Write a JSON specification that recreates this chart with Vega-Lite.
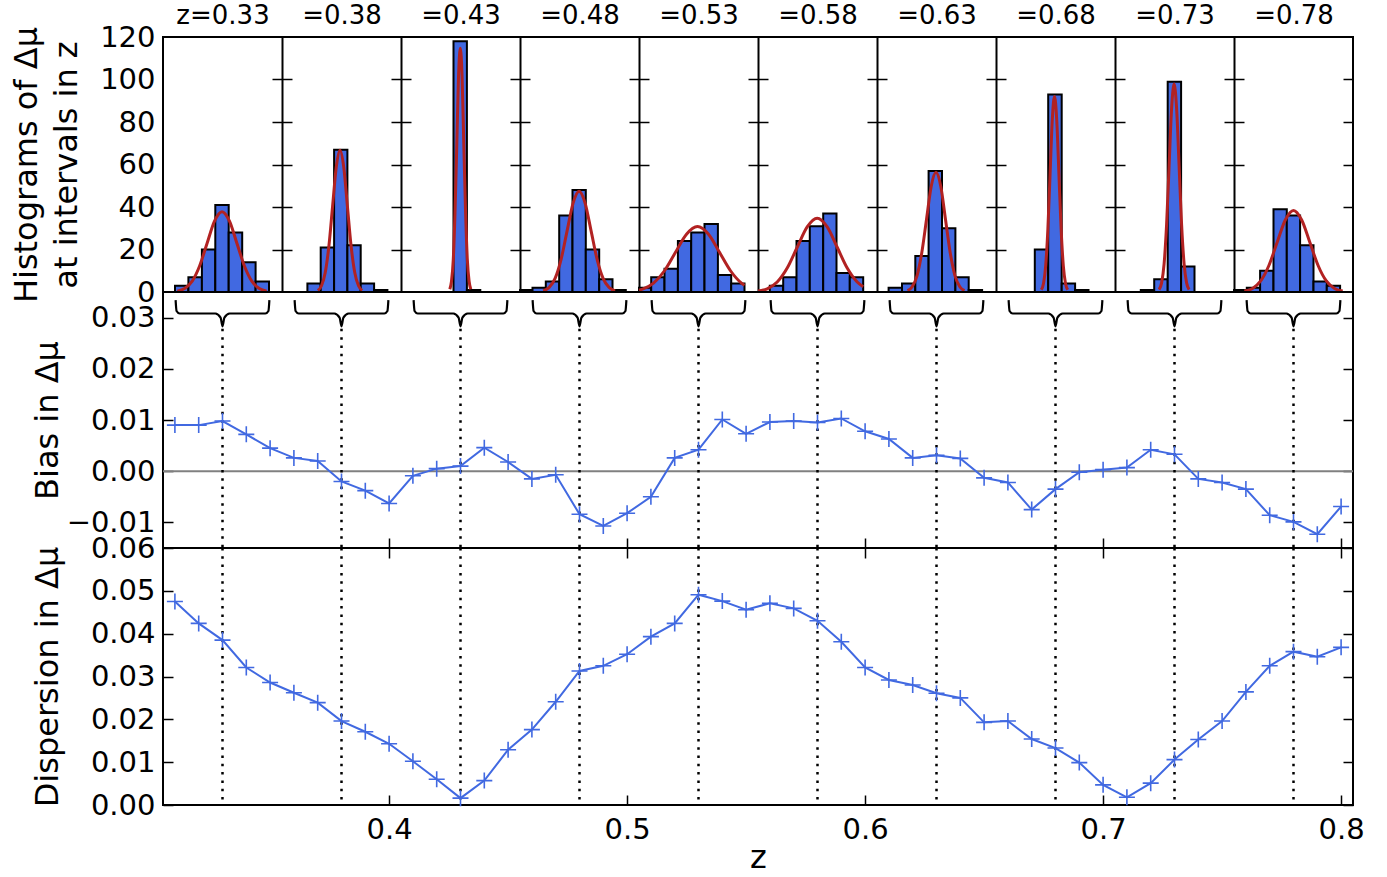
{
"$schema":"https://vega.github.io/schema/vega-lite/v6.json",
"background":"white",
"padding":{"left":9,"top":1,"right":30,"bottom":3},
"datasets":{
"hist":[
{"p":1,"lo":-0.0475,"hi":-0.0341,"n":3},{"p":1,"lo":-0.0341,"hi":-0.0206,"n":7},{"p":1,"lo":-0.0206,"hi":-0.0072,"n":20},{"p":1,"lo":-0.0072,"hi":0.0062,"n":41},{"p":1,"lo":0.0062,"hi":0.0197,"n":28},{"p":1,"lo":0.0197,"hi":0.0331,"n":14},{"p":1,"lo":0.0331,"hi":0.0465,"n":5},
{"p":2,"lo":-0.0341,"hi":-0.0208,"n":4},{"p":2,"lo":-0.0208,"hi":-0.0074,"n":21},{"p":2,"lo":-0.0074,"hi":0.0059,"n":67},{"p":2,"lo":0.0059,"hi":0.0192,"n":22},{"p":2,"lo":0.0192,"hi":0.0326,"n":4},{"p":2,"lo":0.0326,"hi":0.0459,"n":1},
{"p":3,"lo":-0.007,"hi":0.0064,"n":118},{"p":3,"lo":0.0064,"hi":0.0198,"n":1},
{"p":4,"lo":-0.0595,"hi":-0.047,"n":1},{"p":4,"lo":-0.047,"hi":-0.0337,"n":2},{"p":4,"lo":-0.0337,"hi":-0.0203,"n":5},{"p":4,"lo":-0.0203,"hi":-0.007,"n":36},{"p":4,"lo":-0.007,"hi":0.0063,"n":48},{"p":4,"lo":0.0063,"hi":0.0197,"n":20},{"p":4,"lo":0.0197,"hi":0.033,"n":6},{"p":4,"lo":0.033,"hi":0.0463,"n":1},
{"p":5,"lo":-0.0595,"hi":-0.0473,"n":2},{"p":5,"lo":-0.0473,"hi":-0.034,"n":7},{"p":5,"lo":-0.034,"hi":-0.0206,"n":11},{"p":5,"lo":-0.0206,"hi":-0.0073,"n":24},{"p":5,"lo":-0.0073,"hi":0.006,"n":28},{"p":5,"lo":0.006,"hi":0.0194,"n":32},{"p":5,"lo":0.0194,"hi":0.0327,"n":8},{"p":5,"lo":0.0327,"hi":0.046,"n":4},
{"p":6,"lo":-0.0477,"hi":-0.0343,"n":3},{"p":6,"lo":-0.0343,"hi":-0.021,"n":7},{"p":6,"lo":-0.021,"hi":-0.0077,"n":24},{"p":6,"lo":-0.0077,"hi":0.0057,"n":31},{"p":6,"lo":0.0057,"hi":0.019,"n":37},{"p":6,"lo":0.019,"hi":0.0323,"n":9},{"p":6,"lo":0.0323,"hi":0.0457,"n":7},
{"p":7,"lo":-0.0479,"hi":-0.0345,"n":2},{"p":7,"lo":-0.0345,"hi":-0.0212,"n":4},{"p":7,"lo":-0.0212,"hi":-0.0079,"n":17},{"p":7,"lo":-0.0079,"hi":0.0055,"n":57},{"p":7,"lo":0.0055,"hi":0.0189,"n":30},{"p":7,"lo":0.0189,"hi":0.0322,"n":7},{"p":7,"lo":0.0322,"hi":0.0456,"n":1},
{"p":8,"lo":-0.0207,"hi":-0.0073,"n":20},{"p":8,"lo":-0.0073,"hi":0.0062,"n":93},{"p":8,"lo":0.0062,"hi":0.0196,"n":4},{"p":8,"lo":0.0196,"hi":0.033,"n":1},
{"p":9,"lo":-0.0337,"hi":-0.0203,"n":1},{"p":9,"lo":-0.0203,"hi":-0.0068,"n":6},{"p":9,"lo":-0.0068,"hi":0.0066,"n":99},{"p":9,"lo":0.0066,"hi":0.02,"n":12},
{"p":10,"lo":-0.0595,"hi":-0.0467,"n":1},{"p":10,"lo":-0.0467,"hi":-0.0334,"n":2},{"p":10,"lo":-0.0334,"hi":-0.02,"n":10},{"p":10,"lo":-0.02,"hi":-0.0067,"n":39},{"p":10,"lo":-0.0067,"hi":0.0066,"n":36},{"p":10,"lo":0.0066,"hi":0.02,"n":22},{"p":10,"lo":0.02,"hi":0.0333,"n":5},{"p":10,"lo":0.0333,"hi":0.0466,"n":3}
],
"gauss":[
{"p":1,"x":-0.0452,"y":0.42},{"p":1,"x":-0.0378,"y":1.66},{"p":1,"x":-0.0303,"y":5.11},{"p":1,"x":-0.0229,"y":12.27},{"p":1,"x":-0.0154,"y":22.93},{"p":1,"x":-0.008,"y":33.36},{"p":1,"x":-0.0005,"y":37.8},{"p":1,"x":0.007,"y":33.36},{"p":1,"x":0.0144,"y":22.93},{"p":1,"x":0.0219,"y":12.27},{"p":1,"x":0.0293,"y":5.11},{"p":1,"x":0.0368,"y":1.66},{"p":1,"x":0.0442,"y":0.42},
{"p":2,"x":-0.0237,"y":0.74},{"p":2,"x":-0.02,"y":2.93},{"p":2,"x":-0.0163,"y":9.02},{"p":2,"x":-0.0126,"y":21.66},{"p":2,"x":-0.0089,"y":40.45},{"p":2,"x":-0.0052,"y":58.86},{"p":2,"x":-0.0015,"y":66.7},{"p":2,"x":0.0022,"y":58.86},{"p":2,"x":0.0059,"y":40.45},{"p":2,"x":0.0096,"y":21.66},{"p":2,"x":0.0133,"y":9.02},{"p":2,"x":0.017,"y":2.93},{"p":2,"x":0.0207,"y":0.74},
{"p":3,"x":-0.0107,"y":1.27},{"p":3,"x":-0.009,"y":5.04},{"p":3,"x":-0.0072,"y":15.52},{"p":3,"x":-0.0055,"y":37.24},{"p":3,"x":-0.0037,"y":69.57},{"p":3,"x":-0.002,"y":101.22},{"p":3,"x":-0.0002,"y":114.7},{"p":3,"x":0.0016,"y":101.22},{"p":3,"x":0.0033,"y":69.57},{"p":3,"x":0.0051,"y":37.24},{"p":3,"x":0.0068,"y":15.52},{"p":3,"x":0.0086,"y":5.04},{"p":3,"x":0.0103,"y":1.27},
{"p":4,"x":-0.0364,"y":0.53},{"p":4,"x":-0.0304,"y":2.08},{"p":4,"x":-0.0244,"y":6.41},{"p":4,"x":-0.0184,"y":15.39},{"p":4,"x":-0.0124,"y":28.75},{"p":4,"x":-0.0064,"y":41.83},{"p":4,"x":-0.0004,"y":47.4},{"p":4,"x":0.0056,"y":41.83},{"p":4,"x":0.0116,"y":28.75},{"p":4,"x":0.0176,"y":15.39},{"p":4,"x":0.0236,"y":6.41},{"p":4,"x":0.0296,"y":2.08},{"p":4,"x":0.0356,"y":0.53},
{"p":5,"x":-0.0595,"y":0.9},{"p":5,"x":-0.056,"y":1.35},{"p":5,"x":-0.045,"y":4.17},{"p":5,"x":-0.034,"y":10.0},{"p":5,"x":-0.023,"y":18.68},{"p":5,"x":-0.012,"y":27.18},{"p":5,"x":-0.001,"y":30.8},{"p":5,"x":0.01,"y":27.18},{"p":5,"x":0.021,"y":18.68},{"p":5,"x":0.032,"y":10.0},{"p":5,"x":0.043,"y":4.17},{"p":5,"x":0.046,"y":3.14},
{"p":6,"x":-0.0595,"y":0.44},{"p":6,"x":-0.0503,"y":1.52},{"p":6,"x":-0.0403,"y":4.69},{"p":6,"x":-0.0303,"y":11.27},{"p":6,"x":-0.0203,"y":21.05},{"p":6,"x":-0.0103,"y":30.62},{"p":6,"x":-0.0003,"y":34.7},{"p":6,"x":0.0097,"y":30.62},{"p":6,"x":0.0197,"y":21.05},{"p":6,"x":0.0297,"y":11.27},{"p":6,"x":0.0397,"y":4.69},{"p":6,"x":0.0457,"y":2.46},
{"p":7,"x":-0.029,"y":0.62},{"p":7,"x":-0.0243,"y":2.47},{"p":7,"x":-0.0195,"y":7.62},{"p":7,"x":-0.0148,"y":18.28},{"p":7,"x":-0.01,"y":34.15},{"p":7,"x":-0.0053,"y":49.68},{"p":7,"x":-0.0005,"y":56.3},{"p":7,"x":0.0043,"y":49.68},{"p":7,"x":0.009,"y":34.15},{"p":7,"x":0.0138,"y":18.28},{"p":7,"x":0.0185,"y":7.62},{"p":7,"x":0.0233,"y":2.47},{"p":7,"x":0.028,"y":0.62},
{"p":8,"x":-0.0142,"y":1.02},{"p":8,"x":-0.012,"y":4.04},{"p":8,"x":-0.0098,"y":12.45},{"p":8,"x":-0.0076,"y":29.87},{"p":8,"x":-0.0054,"y":55.8},{"p":8,"x":-0.0032,"y":81.19},{"p":8,"x":-0.001,"y":92},{"p":8,"x":0.0012,"y":81.19},{"p":8,"x":0.0034,"y":55.8},{"p":8,"x":0.0056,"y":29.87},{"p":8,"x":0.0078,"y":12.45},{"p":8,"x":0.01,"y":4.04},{"p":8,"x":0.0122,"y":1.02},
{"p":9,"x":-0.0154,"y":1.09},{"p":9,"x":-0.0129,"y":4.3},{"p":9,"x":-0.0104,"y":13.25},{"p":9,"x":-0.0079,"y":31.79},{"p":9,"x":-0.0054,"y":59.38},{"p":9,"x":-0.0029,"y":86.4},{"p":9,"x":-0.0004,"y":97.9},{"p":9,"x":0.0021,"y":86.4},{"p":9,"x":0.0046,"y":59.38},{"p":9,"x":0.0071,"y":31.79},{"p":9,"x":0.0096,"y":13.25},{"p":9,"x":0.0121,"y":4.3},{"p":9,"x":0.0146,"y":1.09},
{"p":10,"x":-0.0492,"y":0.43},{"p":10,"x":-0.041,"y":1.69},{"p":10,"x":-0.0328,"y":5.2},{"p":10,"x":-0.0246,"y":12.47},{"p":10,"x":-0.0164,"y":23.29},{"p":10,"x":-0.0082,"y":33.89},{"p":10,"x":0,"y":38.4},{"p":10,"x":0.0082,"y":33.89},{"p":10,"x":0.0164,"y":23.29},{"p":10,"x":0.0246,"y":12.47},{"p":10,"x":0.0328,"y":5.2},{"p":10,"x":0.041,"y":1.69},{"p":10,"x":0.0492,"y":0.43}
],
"stats":[
{"z":0.31,"bias":0.009,"disp":0.0475},{"z":0.32,"bias":0.009,"disp":0.0424},{"z":0.33,"bias":0.0098,"disp":0.0385},{"z":0.34,"bias":0.0072,"disp":0.0321},{"z":0.35,"bias":0.0045,"disp":0.0286},{"z":0.36,"bias":0.0026,"disp":0.0262},{"z":0.37,"bias":0.002,"disp":0.0239},{"z":0.38,"bias":-0.002,"disp":0.0196},{"z":0.39,"bias":-0.0038,"disp":0.0171},{"z":0.4,"bias":-0.0063,"disp":0.0143},
{"z":0.41,"bias":-0.0009,"disp":0.0102},{"z":0.42,"bias":0.0005,"disp":0.006},{"z":0.43,"bias":0.001,"disp":0.0016},{"z":0.44,"bias":0.0046,"disp":0.0057},{"z":0.45,"bias":0.0018,"disp":0.0129},{"z":0.46,"bias":-0.0015,"disp":0.0176},{"z":0.47,"bias":-0.0007,"disp":0.0241},{"z":0.48,"bias":-0.0084,"disp":0.0313},{"z":0.49,"bias":-0.0107,"disp":0.0325},{"z":0.5,"bias":-0.0082,"disp":0.0352},
{"z":0.51,"bias":-0.005,"disp":0.0393},{"z":0.52,"bias":0.0026,"disp":0.0424},{"z":0.53,"bias":0.0042,"disp":0.0491},{"z":0.54,"bias":0.0101,"disp":0.0476},{"z":0.55,"bias":0.0073,"disp":0.0456},{"z":0.56,"bias":0.0096,"disp":0.0471},{"z":0.57,"bias":0.0098,"disp":0.0459},{"z":0.58,"bias":0.0095,"disp":0.043},{"z":0.59,"bias":0.0103,"disp":0.0381},{"z":0.6,"bias":0.0078,"disp":0.0321},
{"z":0.61,"bias":0.0063,"disp":0.0292},{"z":0.62,"bias":0.0026,"disp":0.028},{"z":0.63,"bias":0.0031,"disp":0.0261},{"z":0.64,"bias":0.0025,"disp":0.025},{"z":0.65,"bias":-0.0013,"disp":0.0193},{"z":0.66,"bias":-0.0022,"disp":0.0196},{"z":0.67,"bias":-0.0075,"disp":0.0154},{"z":0.68,"bias":-0.0035,"disp":0.0133},{"z":0.69,"bias":-0.0002,"disp":0.0099},{"z":0.7,"bias":0.0003,"disp":0.0047},
{"z":0.71,"bias":0.0007,"disp":0.0018},{"z":0.72,"bias":0.0042,"disp":0.0051},{"z":0.73,"bias":0.0033,"disp":0.0106},{"z":0.74,"bias":-0.0015,"disp":0.0153},{"z":0.75,"bias":-0.0022,"disp":0.0196},{"z":0.76,"bias":-0.0035,"disp":0.0264},{"z":0.77,"bias":-0.0086,"disp":0.0325},{"z":0.78,"bias":-0.0099,"disp":0.0358},{"z":0.79,"bias":-0.0123,"disp":0.0346},{"z":0.8,"bias":-0.0069,"disp":0.0368}
],
"centers":[{"z":0.33},{"z":0.38},{"z":0.43},{"z":0.48},{"z":0.53},{"z":0.58},{"z":0.63},{"z":0.68},{"z":0.73},{"z":0.78}],
"brace":[
{"b":1,"z":0.3103,"v":0.0334},{"b":1,"z":0.3107,"v":0.0313},{"b":1,"z":0.312,"v":0.0308},{"b":1,"z":0.327,"v":0.0308},{"b":1,"z":0.3292,"v":0.03},{"b":1,"z":0.33,"v":0.0283},{"b":1,"z":0.3308,"v":0.03},{"b":1,"z":0.333,"v":0.0308},{"b":1,"z":0.348,"v":0.0308},{"b":1,"z":0.3493,"v":0.0313},{"b":1,"z":0.3497,"v":0.0334},
{"b":2,"z":0.3603,"v":0.0334},{"b":2,"z":0.3607,"v":0.0313},{"b":2,"z":0.362,"v":0.0308},{"b":2,"z":0.377,"v":0.0308},{"b":2,"z":0.3792,"v":0.03},{"b":2,"z":0.38,"v":0.0283},{"b":2,"z":0.3808,"v":0.03},{"b":2,"z":0.383,"v":0.0308},{"b":2,"z":0.398,"v":0.0308},{"b":2,"z":0.3993,"v":0.0313},{"b":2,"z":0.3997,"v":0.0334},
{"b":3,"z":0.4103,"v":0.0334},{"b":3,"z":0.4107,"v":0.0313},{"b":3,"z":0.412,"v":0.0308},{"b":3,"z":0.427,"v":0.0308},{"b":3,"z":0.4292,"v":0.03},{"b":3,"z":0.43,"v":0.0283},{"b":3,"z":0.4308,"v":0.03},{"b":3,"z":0.433,"v":0.0308},{"b":3,"z":0.448,"v":0.0308},{"b":3,"z":0.4493,"v":0.0313},{"b":3,"z":0.4497,"v":0.0334},
{"b":4,"z":0.4603,"v":0.0334},{"b":4,"z":0.4607,"v":0.0313},{"b":4,"z":0.462,"v":0.0308},{"b":4,"z":0.477,"v":0.0308},{"b":4,"z":0.4792,"v":0.03},{"b":4,"z":0.48,"v":0.0283},{"b":4,"z":0.4808,"v":0.03},{"b":4,"z":0.483,"v":0.0308},{"b":4,"z":0.498,"v":0.0308},{"b":4,"z":0.4993,"v":0.0313},{"b":4,"z":0.4997,"v":0.0334},
{"b":5,"z":0.5103,"v":0.0334},{"b":5,"z":0.5107,"v":0.0313},{"b":5,"z":0.512,"v":0.0308},{"b":5,"z":0.527,"v":0.0308},{"b":5,"z":0.5292,"v":0.03},{"b":5,"z":0.53,"v":0.0283},{"b":5,"z":0.5308,"v":0.03},{"b":5,"z":0.533,"v":0.0308},{"b":5,"z":0.548,"v":0.0308},{"b":5,"z":0.5493,"v":0.0313},{"b":5,"z":0.5497,"v":0.0334},
{"b":6,"z":0.5603,"v":0.0334},{"b":6,"z":0.5607,"v":0.0313},{"b":6,"z":0.562,"v":0.0308},{"b":6,"z":0.577,"v":0.0308},{"b":6,"z":0.5792,"v":0.03},{"b":6,"z":0.58,"v":0.0283},{"b":6,"z":0.5808,"v":0.03},{"b":6,"z":0.583,"v":0.0308},{"b":6,"z":0.598,"v":0.0308},{"b":6,"z":0.5993,"v":0.0313},{"b":6,"z":0.5997,"v":0.0334},
{"b":7,"z":0.6103,"v":0.0334},{"b":7,"z":0.6107,"v":0.0313},{"b":7,"z":0.612,"v":0.0308},{"b":7,"z":0.627,"v":0.0308},{"b":7,"z":0.6292,"v":0.03},{"b":7,"z":0.63,"v":0.0283},{"b":7,"z":0.6308,"v":0.03},{"b":7,"z":0.633,"v":0.0308},{"b":7,"z":0.648,"v":0.0308},{"b":7,"z":0.6493,"v":0.0313},{"b":7,"z":0.6497,"v":0.0334},
{"b":8,"z":0.6603,"v":0.0334},{"b":8,"z":0.6607,"v":0.0313},{"b":8,"z":0.662,"v":0.0308},{"b":8,"z":0.677,"v":0.0308},{"b":8,"z":0.6792,"v":0.03},{"b":8,"z":0.68,"v":0.0283},{"b":8,"z":0.6808,"v":0.03},{"b":8,"z":0.683,"v":0.0308},{"b":8,"z":0.698,"v":0.0308},{"b":8,"z":0.6993,"v":0.0313},{"b":8,"z":0.6997,"v":0.0334},
{"b":9,"z":0.7103,"v":0.0334},{"b":9,"z":0.7107,"v":0.0313},{"b":9,"z":0.712,"v":0.0308},{"b":9,"z":0.727,"v":0.0308},{"b":9,"z":0.7292,"v":0.03},{"b":9,"z":0.73,"v":0.0283},{"b":9,"z":0.7308,"v":0.03},{"b":9,"z":0.733,"v":0.0308},{"b":9,"z":0.748,"v":0.0308},{"b":9,"z":0.7493,"v":0.0313},{"b":9,"z":0.7497,"v":0.0334},
{"b":10,"z":0.7603,"v":0.0334},{"b":10,"z":0.7607,"v":0.0313},{"b":10,"z":0.762,"v":0.0308},{"b":10,"z":0.777,"v":0.0308},{"b":10,"z":0.7792,"v":0.03},{"b":10,"z":0.78,"v":0.0283},{"b":10,"z":0.7808,"v":0.03},{"b":10,"z":0.783,"v":0.0308},{"b":10,"z":0.798,"v":0.0308},{"b":10,"z":0.7993,"v":0.0313},{"b":10,"z":0.7997,"v":0.0334}
]
},
"vconcat":[
{"width":1190,"height":255,"layer":[
{"data":{"name":"hist"},"transform":[{"filter":"datum.p==1"}],"mark":{"type":"rect","fill":"#4169E1","stroke":"black","strokeWidth":2},"encoding":{"x":{"field":"lo","type":"quantitative","scale":{"domain":[-0.0595,0.0595],"range":[0,119],"nice":false,"zero":false},"axis":{"orient":"top","values":[0],"labelExpr":"'z=0.33'","ticks":false,"labelFontSize":26,"labelPadding":9,"title":null}},"x2":{"field":"hi"},"y":{"field":"n","type":"quantitative","scale":{"domain":[0,120],"nice":false},"axis":{"values":[0,20,40,60,80,100,120],"ticks":false,"labelPadding":8,"title":["Histograms of Δμ","at intervals in z"],"titleX":-127,"titleBaseline":"alphabetic","titleLineHeight":40}},"y2":{"datum":0}}},
{"data":{"name":"gauss"},"transform":[{"filter":"datum.p==1"}],"mark":{"type":"line","color":"#B22222","strokeWidth":3,"interpolate":"monotone"},"encoding":{"x":{"field":"x","type":"quantitative","scale":{"domain":[-0.0595,0.0595],"range":[0,119],"nice":false,"zero":false},"axis":null},"y":{"field":"y","type":"quantitative","scale":{"domain":[0,120],"nice":false},"axis":{"orient":"right","offset":-1071,"labels":false,"title":null,"values":[20,40,60,80,100]}}}},
{"data":{"name":"hist"},"transform":[{"filter":"datum.p==2"}],"mark":{"type":"rect","fill":"#4169E1","stroke":"black","strokeWidth":2},"encoding":{"x":{"field":"lo","type":"quantitative","scale":{"domain":[-0.0595,0.0595],"range":[119,238],"nice":false,"zero":false},"axis":{"orient":"top","values":[0],"labelExpr":"'=0.38'","ticks":false,"labelFontSize":26,"labelPadding":9,"title":null}},"x2":{"field":"hi"},"y":{"field":"n","type":"quantitative","scale":{"domain":[0,120],"nice":false},"axis":{"offset":-119,"values":[20,40,60,80,100],"labels":false,"title":null,"domain":true,"domainColor":"black","domainWidth":2}},"y2":{"datum":0}}},
{"data":{"name":"gauss"},"transform":[{"filter":"datum.p==2"}],"mark":{"type":"line","color":"#B22222","strokeWidth":3,"interpolate":"monotone"},"encoding":{"x":{"field":"x","type":"quantitative","scale":{"domain":[-0.0595,0.0595],"range":[119,238],"nice":false,"zero":false},"axis":null},"y":{"field":"y","type":"quantitative","scale":{"domain":[0,120],"nice":false},"axis":{"orient":"right","offset":-952,"labels":false,"title":null,"values":[20,40,60,80,100]}}}},
{"data":{"name":"hist"},"transform":[{"filter":"datum.p==3"}],"mark":{"type":"rect","fill":"#4169E1","stroke":"black","strokeWidth":2},"encoding":{"x":{"field":"lo","type":"quantitative","scale":{"domain":[-0.0595,0.0595],"range":[238,357],"nice":false,"zero":false},"axis":{"orient":"top","values":[0],"labelExpr":"'=0.43'","ticks":false,"labelFontSize":26,"labelPadding":9,"title":null}},"x2":{"field":"hi"},"y":{"field":"n","type":"quantitative","scale":{"domain":[0,120],"nice":false},"axis":{"offset":-238,"values":[20,40,60,80,100],"labels":false,"title":null,"domain":true,"domainColor":"black","domainWidth":2}},"y2":{"datum":0}}},
{"data":{"name":"gauss"},"transform":[{"filter":"datum.p==3"}],"mark":{"type":"line","color":"#B22222","strokeWidth":3,"interpolate":"monotone"},"encoding":{"x":{"field":"x","type":"quantitative","scale":{"domain":[-0.0595,0.0595],"range":[238,357],"nice":false,"zero":false},"axis":null},"y":{"field":"y","type":"quantitative","scale":{"domain":[0,120],"nice":false},"axis":{"orient":"right","offset":-833,"labels":false,"title":null,"values":[20,40,60,80,100]}}}},
{"data":{"name":"hist"},"transform":[{"filter":"datum.p==4"}],"mark":{"type":"rect","fill":"#4169E1","stroke":"black","strokeWidth":2},"encoding":{"x":{"field":"lo","type":"quantitative","scale":{"domain":[-0.0595,0.0595],"range":[357,476],"nice":false,"zero":false},"axis":{"orient":"top","values":[0],"labelExpr":"'=0.48'","ticks":false,"labelFontSize":26,"labelPadding":9,"title":null}},"x2":{"field":"hi"},"y":{"field":"n","type":"quantitative","scale":{"domain":[0,120],"nice":false},"axis":{"offset":-357,"values":[20,40,60,80,100],"labels":false,"title":null,"domain":true,"domainColor":"black","domainWidth":2}},"y2":{"datum":0}}},
{"data":{"name":"gauss"},"transform":[{"filter":"datum.p==4"}],"mark":{"type":"line","color":"#B22222","strokeWidth":3,"interpolate":"monotone"},"encoding":{"x":{"field":"x","type":"quantitative","scale":{"domain":[-0.0595,0.0595],"range":[357,476],"nice":false,"zero":false},"axis":null},"y":{"field":"y","type":"quantitative","scale":{"domain":[0,120],"nice":false},"axis":{"orient":"right","offset":-714,"labels":false,"title":null,"values":[20,40,60,80,100]}}}},
{"data":{"name":"hist"},"transform":[{"filter":"datum.p==5"}],"mark":{"type":"rect","fill":"#4169E1","stroke":"black","strokeWidth":2},"encoding":{"x":{"field":"lo","type":"quantitative","scale":{"domain":[-0.0595,0.0595],"range":[476,595],"nice":false,"zero":false},"axis":{"orient":"top","values":[0],"labelExpr":"'=0.53'","ticks":false,"labelFontSize":26,"labelPadding":9,"title":null}},"x2":{"field":"hi"},"y":{"field":"n","type":"quantitative","scale":{"domain":[0,120],"nice":false},"axis":{"offset":-476,"values":[20,40,60,80,100],"labels":false,"title":null,"domain":true,"domainColor":"black","domainWidth":2}},"y2":{"datum":0}}},
{"data":{"name":"gauss"},"transform":[{"filter":"datum.p==5"}],"mark":{"type":"line","color":"#B22222","strokeWidth":3,"interpolate":"monotone"},"encoding":{"x":{"field":"x","type":"quantitative","scale":{"domain":[-0.0595,0.0595],"range":[476,595],"nice":false,"zero":false},"axis":null},"y":{"field":"y","type":"quantitative","scale":{"domain":[0,120],"nice":false},"axis":{"orient":"right","offset":-595,"labels":false,"title":null,"values":[20,40,60,80,100]}}}},
{"data":{"name":"hist"},"transform":[{"filter":"datum.p==6"}],"mark":{"type":"rect","fill":"#4169E1","stroke":"black","strokeWidth":2},"encoding":{"x":{"field":"lo","type":"quantitative","scale":{"domain":[-0.0595,0.0595],"range":[595,714],"nice":false,"zero":false},"axis":{"orient":"top","values":[0],"labelExpr":"'=0.58'","ticks":false,"labelFontSize":26,"labelPadding":9,"title":null}},"x2":{"field":"hi"},"y":{"field":"n","type":"quantitative","scale":{"domain":[0,120],"nice":false},"axis":{"offset":-595,"values":[20,40,60,80,100],"labels":false,"title":null,"domain":true,"domainColor":"black","domainWidth":2}},"y2":{"datum":0}}},
{"data":{"name":"gauss"},"transform":[{"filter":"datum.p==6"}],"mark":{"type":"line","color":"#B22222","strokeWidth":3,"interpolate":"monotone"},"encoding":{"x":{"field":"x","type":"quantitative","scale":{"domain":[-0.0595,0.0595],"range":[595,714],"nice":false,"zero":false},"axis":null},"y":{"field":"y","type":"quantitative","scale":{"domain":[0,120],"nice":false},"axis":{"orient":"right","offset":-476,"labels":false,"title":null,"values":[20,40,60,80,100]}}}},
{"data":{"name":"hist"},"transform":[{"filter":"datum.p==7"}],"mark":{"type":"rect","fill":"#4169E1","stroke":"black","strokeWidth":2},"encoding":{"x":{"field":"lo","type":"quantitative","scale":{"domain":[-0.0595,0.0595],"range":[714,833],"nice":false,"zero":false},"axis":{"orient":"top","values":[0],"labelExpr":"'=0.63'","ticks":false,"labelFontSize":26,"labelPadding":9,"title":null}},"x2":{"field":"hi"},"y":{"field":"n","type":"quantitative","scale":{"domain":[0,120],"nice":false},"axis":{"offset":-714,"values":[20,40,60,80,100],"labels":false,"title":null,"domain":true,"domainColor":"black","domainWidth":2}},"y2":{"datum":0}}},
{"data":{"name":"gauss"},"transform":[{"filter":"datum.p==7"}],"mark":{"type":"line","color":"#B22222","strokeWidth":3,"interpolate":"monotone"},"encoding":{"x":{"field":"x","type":"quantitative","scale":{"domain":[-0.0595,0.0595],"range":[714,833],"nice":false,"zero":false},"axis":null},"y":{"field":"y","type":"quantitative","scale":{"domain":[0,120],"nice":false},"axis":{"orient":"right","offset":-357,"labels":false,"title":null,"values":[20,40,60,80,100]}}}},
{"data":{"name":"hist"},"transform":[{"filter":"datum.p==8"}],"mark":{"type":"rect","fill":"#4169E1","stroke":"black","strokeWidth":2},"encoding":{"x":{"field":"lo","type":"quantitative","scale":{"domain":[-0.0595,0.0595],"range":[833,952],"nice":false,"zero":false},"axis":{"orient":"top","values":[0],"labelExpr":"'=0.68'","ticks":false,"labelFontSize":26,"labelPadding":9,"title":null}},"x2":{"field":"hi"},"y":{"field":"n","type":"quantitative","scale":{"domain":[0,120],"nice":false},"axis":{"offset":-833,"values":[20,40,60,80,100],"labels":false,"title":null,"domain":true,"domainColor":"black","domainWidth":2}},"y2":{"datum":0}}},
{"data":{"name":"gauss"},"transform":[{"filter":"datum.p==8"}],"mark":{"type":"line","color":"#B22222","strokeWidth":3,"interpolate":"monotone"},"encoding":{"x":{"field":"x","type":"quantitative","scale":{"domain":[-0.0595,0.0595],"range":[833,952],"nice":false,"zero":false},"axis":null},"y":{"field":"y","type":"quantitative","scale":{"domain":[0,120],"nice":false},"axis":{"orient":"right","offset":-238,"labels":false,"title":null,"values":[20,40,60,80,100]}}}},
{"data":{"name":"hist"},"transform":[{"filter":"datum.p==9"}],"mark":{"type":"rect","fill":"#4169E1","stroke":"black","strokeWidth":2},"encoding":{"x":{"field":"lo","type":"quantitative","scale":{"domain":[-0.0595,0.0595],"range":[952,1071],"nice":false,"zero":false},"axis":{"orient":"top","values":[0],"labelExpr":"'=0.73'","ticks":false,"labelFontSize":26,"labelPadding":9,"title":null}},"x2":{"field":"hi"},"y":{"field":"n","type":"quantitative","scale":{"domain":[0,120],"nice":false},"axis":{"offset":-952,"values":[20,40,60,80,100],"labels":false,"title":null,"domain":true,"domainColor":"black","domainWidth":2}},"y2":{"datum":0}}},
{"data":{"name":"gauss"},"transform":[{"filter":"datum.p==9"}],"mark":{"type":"line","color":"#B22222","strokeWidth":3,"interpolate":"monotone"},"encoding":{"x":{"field":"x","type":"quantitative","scale":{"domain":[-0.0595,0.0595],"range":[952,1071],"nice":false,"zero":false},"axis":null},"y":{"field":"y","type":"quantitative","scale":{"domain":[0,120],"nice":false},"axis":{"orient":"right","offset":-119,"labels":false,"title":null,"values":[20,40,60,80,100]}}}},
{"data":{"name":"hist"},"transform":[{"filter":"datum.p==10"}],"mark":{"type":"rect","fill":"#4169E1","stroke":"black","strokeWidth":2},"encoding":{"x":{"field":"lo","type":"quantitative","scale":{"domain":[-0.0595,0.0595],"range":[1071,1190],"nice":false,"zero":false},"axis":{"orient":"top","values":[0],"labelExpr":"'=0.78'","ticks":false,"labelFontSize":26,"labelPadding":9,"title":null}},"x2":{"field":"hi"},"y":{"field":"n","type":"quantitative","scale":{"domain":[0,120],"nice":false},"axis":{"offset":-1071,"values":[20,40,60,80,100],"labels":false,"title":null,"domain":true,"domainColor":"black","domainWidth":2}},"y2":{"datum":0}}},
{"data":{"name":"gauss"},"transform":[{"filter":"datum.p==10"}],"mark":{"type":"line","color":"#B22222","strokeWidth":3,"interpolate":"monotone"},"encoding":{"x":{"field":"x","type":"quantitative","scale":{"domain":[-0.0595,0.0595],"range":[1071,1190],"nice":false,"zero":false},"axis":null},"y":{"field":"y","type":"quantitative","scale":{"domain":[0,120],"nice":false},"axis":{"orient":"right","offset":0,"labels":false,"title":null,"values":[20,40,60,80,100]}}}}
],"resolve":{"scale":{"x":"independent"},"axis":{"x":"independent","y":"independent"}}},
{"width":1190,"height":256,"layer":[
{"data":{"values":[{}]},"mark":{"type":"rule","color":"#808080","strokeWidth":2},"encoding":{"y":{"datum":0,"type":"quantitative","scale":{"domain":[-0.015,0.035],"nice":false,"zero":false},"axis":null}}},
{"data":{"name":"centers"},"mark":{"type":"rule","color":"black","strokeWidth":2.5,"strokeDash":[2.5,5.8]},"encoding":{"x":{"field":"z","type":"quantitative","scale":{"domain":[0.305,0.805],"nice":false,"zero":false},"axis":null},"y":{"datum":0.0278,"type":"quantitative","scale":{"domain":[-0.015,0.035],"nice":false,"zero":false},"axis":null},"y2":{"datum":-0.015}}},
{"data":{"name":"brace"},"mark":{"type":"line","color":"black","strokeWidth":2.2,"interpolate":"monotone"},"encoding":{"x":{"field":"z","type":"quantitative","scale":{"domain":[0.305,0.805],"nice":false,"zero":false},"axis":null},"y":{"field":"v","type":"quantitative","scale":{"domain":[-0.015,0.035],"nice":false,"zero":false},"axis":null},"detail":{"field":"b","type":"nominal"}}},
{"data":{"name":"stats"},"mark":{"type":"line","color":"#4169E1","strokeWidth":2},"encoding":{"x":{"field":"z","type":"quantitative","scale":{"domain":[0.305,0.805],"nice":false,"zero":false},"axis":{"values":[0.4,0.5,0.6,0.7,0.8],"labels":false,"title":null}},"y":{"field":"bias","type":"quantitative","scale":{"domain":[-0.015,0.035],"nice":false,"zero":false},"axis":{"values":[-0.01,0,0.01,0.02,0.03],"format":".2f","title":"Bias in Δμ","titleX":-106,"titleBaseline":"alphabetic"}}}},
{"data":{"name":"stats"},"mark":{"type":"point","shape":"M-1,0H1M0,-1V1","size":256,"filled":false,"stroke":"#4169E1","strokeWidth":1.6,"opacity":1},"encoding":{"x":{"field":"z","type":"quantitative","scale":{"domain":[0.305,0.805],"nice":false,"zero":false},"axis":null},"y":{"field":"bias","type":"quantitative","scale":{"domain":[-0.015,0.035],"nice":false,"zero":false},"axis":{"orient":"right","values":[-0.01,0,0.01,0.02,0.03],"labels":false,"title":null}}}}
],"resolve":{"axis":{"x":"independent","y":"independent"}}},
{"width":1190,"height":257,"layer":[
{"data":{"name":"centers"},"mark":{"type":"rule","color":"black","strokeWidth":2.5,"strokeDash":[2.5,5.8]},"encoding":{"x":{"field":"z","type":"quantitative","scale":{"domain":[0.305,0.805],"nice":false,"zero":false},"axis":null},"y":{"datum":0.06,"type":"quantitative","scale":{"domain":[0,0.06],"nice":false},"axis":null},"y2":{"datum":0}}},
{"data":{"name":"stats"},"mark":{"type":"line","color":"#4169E1","strokeWidth":2},"encoding":{"x":{"field":"z","type":"quantitative","scale":{"domain":[0.305,0.805],"nice":false,"zero":false},"axis":{"values":[0.4,0.5,0.6,0.7,0.8],"format":".1f","title":"z","labelPadding":20,"titlePadding":-2,"labelFlush":false}},"y":{"field":"disp","type":"quantitative","scale":{"domain":[0,0.06],"nice":false},"axis":{"values":[0,0.01,0.02,0.03,0.04,0.05,0.06],"format":".2f","title":"Dispersion in Δμ","titleX":-106,"titleBaseline":"alphabetic"}}}},
{"data":{"name":"stats"},"mark":{"type":"point","shape":"M-1,0H1M0,-1V1","size":256,"filled":false,"stroke":"#4169E1","strokeWidth":1.6,"opacity":1},"encoding":{"x":{"field":"z","type":"quantitative","scale":{"domain":[0.305,0.805],"nice":false,"zero":false},"axis":{"orient":"top","values":[0.4,0.5,0.6,0.7,0.8],"labels":false,"title":null}},"y":{"field":"disp","type":"quantitative","scale":{"domain":[0,0.06],"nice":false},"axis":{"orient":"right","values":[0,0.01,0.02,0.03,0.04,0.05,0.06],"labels":false,"title":null}}}}
],"resolve":{"axis":{"x":"independent","y":"independent"}}}
],
"spacing":0,
"bounds":"flush",
"config":{
"font":"DejaVu Sans",
"view":{"stroke":"black","strokeWidth":2},
"axis":{"domain":false,"grid":false,"tickColor":"black","tickWidth":1.5,"tickSize":-10,"labelPadding":18,"labelFont":"DejaVu Sans","labelFontSize":29,"labelColor":"black","labelOverlap":false,"labelFlush":false,"titleFont":"DejaVu Sans","titleFontSize":32,"titleFontWeight":"normal","titleColor":"black"}
}
}
